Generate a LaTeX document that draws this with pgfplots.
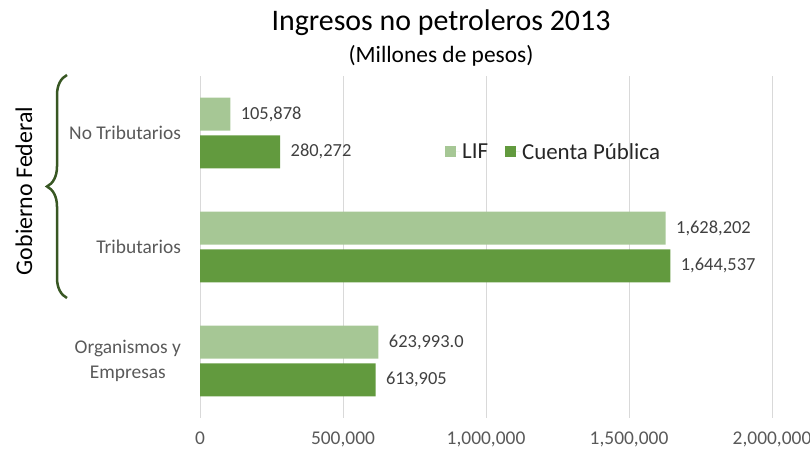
\documentclass[border=0pt]{standalone}
\usepackage{fontspec}
\setmainfont{Carlito}
\usepackage{pgfplots}
\pgfplotsset{compat=1.18}
\usetikzlibrary{decorations.pathreplacing}
\definecolor{lif}{HTML}{A6C795}
\definecolor{cp}{HTML}{629A3E}
\definecolor{bracecol}{HTML}{385723}
\definecolor{gridc}{HTML}{D9D9D9}
\definecolor{ticktext}{HTML}{595959}
\definecolor{valtext}{HTML}{404040}
\begin{document}
\begin{tikzpicture}[x=1bp,y=1bp]
\path[use as bounding box] (0,0) rectangle (810,456);
\begin{axis}[
  at={(200bp,38bp)}, anchor=south west,
  scale only axis, width=572bp, height=342bp,
  xmin=0, xmax=2000000, ymin=-0.5, ymax=2.5,
  xbar, bar width=0.29, bar shift=0pt,
  clip=false,
  axis line style={draw=none},
  major tick length=0pt,
  xmajorgrids, grid style={gridc, line width=1bp},
  xtick={0,500000,1000000,1500000,2000000},
  xticklabels={0,{500,000},{1,000,000},{1,500,000},{2,000,000}},
  xticklabel style={font=\fontsize{19.5}{24}\selectfont, text=ticktext, anchor=base, inner sep=0.5bp, yshift=-27bp},
  ytick={0,1,2},
  yticklabels={{Organismos y\\Empresas},Tributarios,No Tributarios},
  yticklabel style={font=\fontsize{19.5}{24.5}\selectfont, text=ticktext, align=center, xshift=-15.5bp},
  point meta=explicit symbolic,
  nodes near coords={\pgfplotspointmeta},
  every node near coord/.append style={anchor=west, xshift=7bp, font=\fontsize{18.5}{22}\selectfont, text=valtext},
  legend columns=2,
  legend style={at={(0.423,0.778)}, anchor=west, draw=none, fill=none,
    font=\fontsize{23}{27}\selectfont, text=black!85,
    /tikz/every even column/.append style={column sep=15bp}},
  legend image code/.code={\fill[#1] (0bp,-5.5bp) rectangle (11bp,5.5bp); \path (0bp,0bp) -- (15bp,0bp);},
]
\addplot[fill=lif, draw=none] coordinates {
  (623993,0.165) [623,993.0]
  (1628202,1.165) [1,628,202]
  (105878,2.165) [105,878]
};
\addlegendentry{LIF}
\addplot[fill=cp, draw=none] coordinates {
  (613905,-0.165) [613,905]
  (1644537,0.835) [1,644,537]
  (280272,1.835) [280,272]
};
\addlegendentry{Cuenta Pública}
\end{axis}
\node[anchor=base, font=\fontsize{30}{36}\selectfont] at (441,425) {Ingresos no petroleros 2013};
\node[anchor=base, font=\fontsize{23.5}{28}\selectfont] at (441,393) {(Millones de pesos)};
\draw[bracecol, line width=2.5bp, decorate, decoration={brace, amplitude=20bp, aspect=0.5}] (67,158) -- (67,381);
\node[rotate=90, anchor=base, font=\fontsize{24}{28}\selectfont] at (32,265) {Gobierno Federal};
\end{tikzpicture}
\end{document}
